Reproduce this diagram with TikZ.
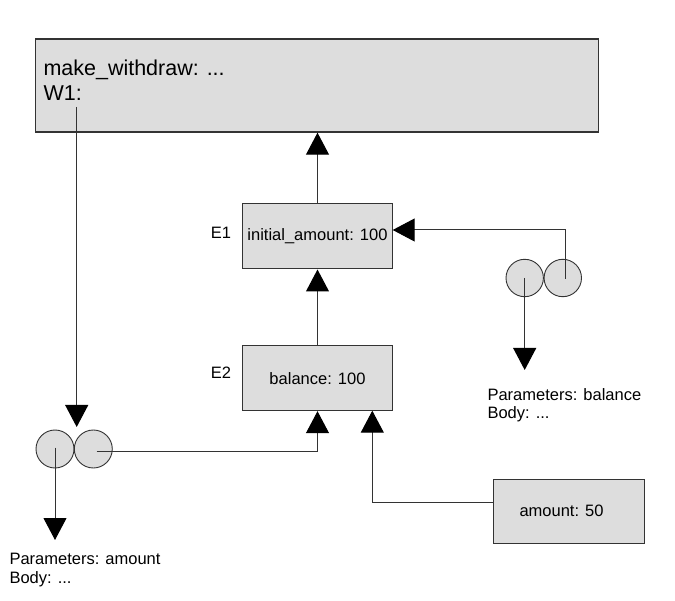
\documentclass[tikz,border=0pt]{standalone}
\usepackage{fontspec}
\setmainfont{Liberation Sans}
\usetikzlibrary{arrows.meta,calc}

\definecolor{boxfill}{HTML}{DDDDDD}
\definecolor{boxline}{HTML}{333333}
\definecolor{wire}{HTML}{333333}

\tikzset{
  envbox/.style={draw=boxline, fill=boxfill, line width=1pt, rectangle, inner sep=0pt},
  frame/.style={envbox, line width=1.2pt},
  funcball/.style={draw=boxline, fill=boxfill, line width=0.9pt, circle, inner sep=0pt, minimum size=38pt},
  bigtext/.style={inner sep=0pt, anchor=base west, font=\fontsize{21.5}{25}\selectfont},
  smalltext/.style={inner sep=0pt, font=\fontsize{16.5}{18}\selectfont},
  conn/.style={draw=wire, line width=1pt, -{Triangle[length=22pt,width=23pt,black]}},
}

\begin{document}
\begin{tikzpicture}[x=1pt,y=-1pt]
  \useasboundingbox (0,0) rectangle (675,601);

  % global frame
  \node[frame, anchor=north west, minimum width=563pt, minimum height=93pt] (global) at (34.5,38.5) {};
  \node[bigtext] (gline1) at (43.3,76) {make\_withdraw: ...};
  \node[bigtext] (gline2) at (43.3,101) {W1:};
  \coordinate (w1) at (76.7,107);

  % environments
  \node[envbox, minimum width=150.4pt, minimum height=65pt, smalltext] (E1) at (317.5,236.5) {initial\_amount: 100};
  \node[envbox, minimum width=150.4pt, minimum height=65pt, smalltext] (E2) at (317.5,378.2) {balance: 100};
  \node[smalltext, anchor=base west] (E1lab) at (210.7,238.3) {E1};
  \node[smalltext, anchor=base west] (E2lab) at (210.7,378.3) {E2};

  % local frame of the call
  \node[envbox, minimum width=150.7pt, minimum height=64pt] (amountbox) at (568.7,511.3) {};
  \node[smalltext, anchor=base west] (amounttext) at (519.3,516) {amount: 50};

  % function object bound in E1
  \node[funcball, minimum size=37.4pt] (fa) at (524.7,278) {};
  \node[funcball, minimum size=37.4pt] (fb) at (562.8,278) {};
  \node[smalltext, anchor=base west] (fapar) at (487.3,400.7) {Parameters: balance};
  \node[smalltext, anchor=base west] (fabody) at (487.3,418.3) {Body: ...};

  % function object W1
  \node[funcball] (wa) at (55,449) {};
  \node[funcball] (wb) at (93.3,449) {};
  \node[smalltext, anchor=base west] (wapar) at (9.3,564) {Parameters: amount};
  \node[smalltext, anchor=base west] (wabody) at (9.3,583) {Body: ...};

  % free ends
  \coordinate (faend) at (524.7,370);
  \coordinate (waend) at (55,540);
  \coordinate (w1end) at (76.7,427);
  \coordinate (e2in) at (372.3,410.7);
  \coordinate (e1in) at (392.7,230);

  % parent links
  \draw[conn] (E1.north) -- (E1.north |- global.south);
  \draw[conn] (E2.north) -- (E1.south);
  \draw[conn] ($(fb.center)+(3,1)$) |- (e1in);
  \draw[conn] ($(wb.center)+(3.4,2.7)$) -| (E2.south);
  \draw[conn] ($(amountbox.west)+(0,-9)$) -| (e2in);

  % code and binding links
  \draw[conn] (fa.center) -- (faend);
  \draw[conn] (w1) -- (w1end);
  \draw[conn] ($(wa.center)+(0,-1.3)$) -- (waend);
\end{tikzpicture}
\end{document}
